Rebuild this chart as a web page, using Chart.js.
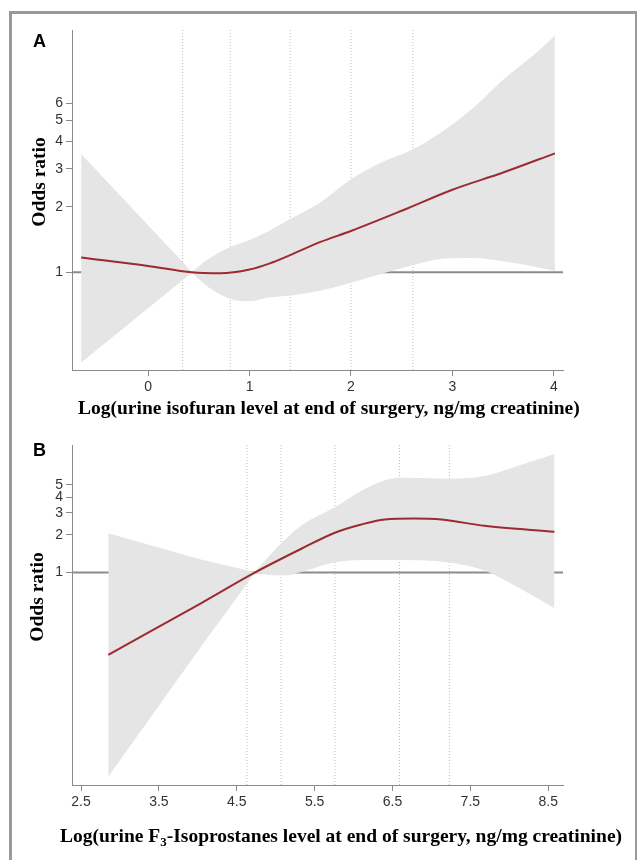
<!DOCTYPE html>
<html>
<head>
<meta charset="utf-8">
<script src="https://cdn.jsdelivr.net/npm/chart.js@4.4.0/dist/chart.umd.min.js"></script>
<style>
  body { margin: 0; background: #fff; }
  #page { position: relative; width: 637px; height: 860px; overflow: hidden; }
  .frame { position: absolute; left: 9px; top: 11px; width: 629px; height: 900px; border: 3px solid #9a9a9a; box-sizing: border-box; }
  canvas { position: absolute; left: 0; }
</style>
</head>
<body>
<div id="page">
  <div class="frame"></div>
  <canvas id="chartA" width="637" height="430" style="top:0"></canvas>
  <canvas id="chartB" width="637" height="430" style="top:430px"></canvas>
</div>
<script>
// Panel A - urine isofuran
const isoCurveX = [-0.66, 0, 0.43, 0.71, 1.0, 1.2, 1.4, 1.7, 2.0, 2.5, 3.0, 3.5, 4.01];
const isoCurveOR = [1.17, 1.07, 1.0, 0.99, 1.03, 1.10, 1.20, 1.38, 1.55, 1.92, 2.40, 2.88, 3.53];
const isoBandLeftX = [-0.66, 0.43];
const isoBandLeftUpper = [3.49, 1.0];
const isoBandLeftLower = [0.386, 1.0];
const isoBandRightX = [0.43, 0.6, 0.81, 1.0, 1.2, 1.4, 1.7, 2.0, 2.3, 2.6, 2.9, 3.2, 3.5, 3.8, 4.01];
const isoBandRightUpper = [1.0, 1.15, 1.30, 1.40, 1.55, 1.75, 2.09, 2.67, 3.19, 3.64, 4.42, 5.66, 7.67, 9.95, 12.2];
const isoBandRightLower = [1.0, 0.855, 0.758, 0.739, 0.771, 0.785, 0.828, 0.90, 0.99, 1.08, 1.16, 1.17, 1.13, 1.07, 1.02];
const isoKnots = [0.34, 0.81, 1.40, 2.0, 2.61];
const isoXTicks = [0, 1, 2, 3, 4];
const isoYTicks = [1, 2, 3, 4, 5, 6];

// Panel B - urine F3-isoprostanes
const f3CurveX = [2.85, 4.04, 4.73, 5.33, 5.76, 6.1, 6.4, 6.78, 7.13, 7.68, 8.58];
const f3CurveOR = [0.221, 0.57, 1.0, 1.55, 2.08, 2.42, 2.65, 2.70, 2.65, 2.36, 2.12];
const f3BandLeftX = [2.85, 4.04, 4.73];
const f3BandLeftUpper = [2.04, 1.26, 1.0];
const f3BandLeftLower = [0.024, 0.26, 1.0];
const f3BandRightX = [4.73, 4.99, 5.13, 5.33, 5.76, 6.1, 6.4, 6.6, 7.2, 7.68, 8.1, 8.58];
const f3BandRightUpper = [1.0, 1.51, 1.84, 2.36, 3.29, 4.45, 5.39, 5.66, 5.56, 5.83, 6.99, 8.74];
const f3BandRightLower = [1.0, 0.96, 0.96, 1.02, 1.22, 1.27, 1.27, 1.27, 1.22, 1.05, 0.777, 0.526];
const f3Knots = [4.63, 5.07, 5.76, 6.59, 7.23];
const f3XTicks = [2.5, 3.5, 4.5, 5.5, 6.5, 7.5, 8.5];
const f3YTicks = [1, 2, 3, 4, 5];

const bandColor = '#e5e5e5';
const curveColor = '#9c2a30';
const axisColor = '#8a8a8a';
const serifFont = '"Liberation Serif", "Times New Roman", serif';
const sansFont = '"Liberation Sans", Arial, sans-serif';

function toPoints(xs, ys) {
  return xs.map((x, i) => ({ x: x, y: ys[i] }));
}

function bandSet(xs, ys, fill, smooth) {
  return {
    data: toPoints(xs, ys),
    borderColor: bandColor,
    backgroundColor: bandColor,
    borderWidth: 1,
    pointRadius: 0,
    fill: fill,
    tension: 0,
    cubicInterpolationMode: smooth ? 'monotone' : 'default'
  };
}

function buildPanel(canvasId, p) {
  const knotData = [];
  p.knots.forEach(k => {
    knotData.push({ x: k, y: p.yMin }, { x: k, y: p.yMax }, { x: k, y: null });
  });

  const textPlugin = {
    id: 'panelText',
    afterDraw(chart) {
      const { ctx, chartArea } = chart;
      ctx.save();
      ctx.fillStyle = '#000';
      ctx.textBaseline = 'alphabetic';
      ctx.textAlign = 'left';
      ctx.font = 'bold 18px ' + sansFont;
      ctx.fillText(p.letter, p.letterX, p.letterY);

      ctx.save();
      ctx.font = 'bold 19.5px ' + serifFont;
      ctx.translate(p.yTitleX, chartArea.top + 152);
      ctx.rotate(-Math.PI / 2);
      ctx.textAlign = 'center';
      ctx.fillText('Odds ratio', 0, 0);
      ctx.restore();

      let x = p.xTitleX;
      const y = chartArea.bottom + p.xTitleDy;
      p.xTitle.forEach(part => {
        ctx.font = part.sub ? 'bold 13px ' + serifFont : 'bold 19.5px ' + serifFont;
        ctx.fillText(part.text, x, part.sub ? y + 4 : y);
        x += ctx.measureText(part.text).width;
      });
      ctx.restore();
    }
  };

  return new Chart(document.getElementById(canvasId), {
    type: 'line',
    data: {
      datasets: [
        {
          data: toPoints(p.curveX, p.curveY),
          borderColor: curveColor,
          borderWidth: 2,
          pointRadius: 0,
          fill: false,
          cubicInterpolationMode: 'monotone'
        },
        bandSet(p.leftX, p.leftUpper, '+1', false),
        bandSet(p.leftX, p.leftLower, false, false),
        bandSet(p.rightX, p.rightUpper, '+1', true),
        bandSet(p.rightX, p.rightLower, false, true),
        {
          data: [{ x: p.xMin, y: 1 }, { x: p.xMax, y: 1 }],
          borderColor: '#8c8c8c',
          borderWidth: 2,
          pointRadius: 0,
          fill: false
        },
        {
          data: knotData,
          borderColor: '#bdbdbd',
          borderWidth: 1,
          borderDash: [1, 2],
          pointRadius: 0,
          fill: false,
          spanGaps: false
        }
      ]
    },
    options: {
      responsive: false,
      animation: false,
      devicePixelRatio: 1,
      layout: { padding: { top: p.padTop, right: 74, bottom: p.padBottom, left: 0 } },
      scales: {
        x: {
          type: 'linear',
          min: p.xMin,
          max: p.xMax,
          afterBuildTicks: s => { s.ticks = p.xTicks.map(v => ({ value: v })); },
          afterFit: s => { s.height = 60; },
          grid: { drawOnChartArea: false, drawTicks: true, tickLength: 6, color: axisColor },
          border: { color: axisColor, width: 1 },
          ticks: { color: '#333', font: { family: sansFont, size: 14 }, padding: 3, maxRotation: 0, callback: v => v }
        },
        y: {
          type: 'logarithmic',
          min: p.yMin,
          max: p.yMax,
          afterBuildTicks: s => { s.ticks = p.yTicks.map(v => ({ value: v })); },
          afterFit: s => { s.width = 72; },
          grid: { drawOnChartArea: false, drawTicks: true, tickLength: 6, color: axisColor },
          border: { color: axisColor, width: 1 },
          ticks: { color: '#333', font: { family: sansFont, size: 14 }, padding: 3, callback: v => v }
        }
      },
      plugins: { legend: { display: false }, tooltip: { enabled: false } }
    },
    plugins: [textPlugin]
  });
}

buildPanel('chartA', {
  curveX: isoCurveX, curveY: isoCurveOR,
  leftX: isoBandLeftX, leftUpper: isoBandLeftUpper, leftLower: isoBandLeftLower,
  rightX: isoBandRightX, rightUpper: isoBandRightUpper, rightLower: isoBandRightLower,
  knots: isoKnots, xTicks: isoXTicks, yTicks: isoYTicks,
  xMin: -0.75, xMax: 4.09, yMin: 0.355, yMax: 13.05,
  padTop: 30, padBottom: 0,
  letter: 'A', letterX: 33, letterY: 47,
  yTitleX: 45,
  xTitleX: 78, xTitleDy: 43.5,
  xTitle: [{ text: 'Log(urine isofuran level at end of surgery, ng/mg creatinine)' }]
});

buildPanel('chartB', {
  curveX: f3CurveX, curveY: f3CurveOR,
  leftX: f3BandLeftX, leftUpper: f3BandLeftUpper, leftLower: f3BandLeftLower,
  rightX: f3BandRightX, rightUpper: f3BandRightUpper, rightLower: f3BandRightLower,
  knots: f3Knots, xTicks: f3XTicks, yTicks: f3YTicks,
  xMin: 2.384, xMax: 8.69, yMin: 0.0203, yMax: 10.4,
  padTop: 15, padBottom: 15,
  letter: 'B', letterX: 33, letterY: 26,
  yTitleX: 43,
  xTitleX: 60, xTitleDy: 56.5,
  xTitle: [
    { text: 'Log(urine F' },
    { text: '3', sub: true },
    { text: '-Isoprostanes level at end of surgery, ng/mg creatinine)' }
  ]
});
</script>
</body>
</html>
